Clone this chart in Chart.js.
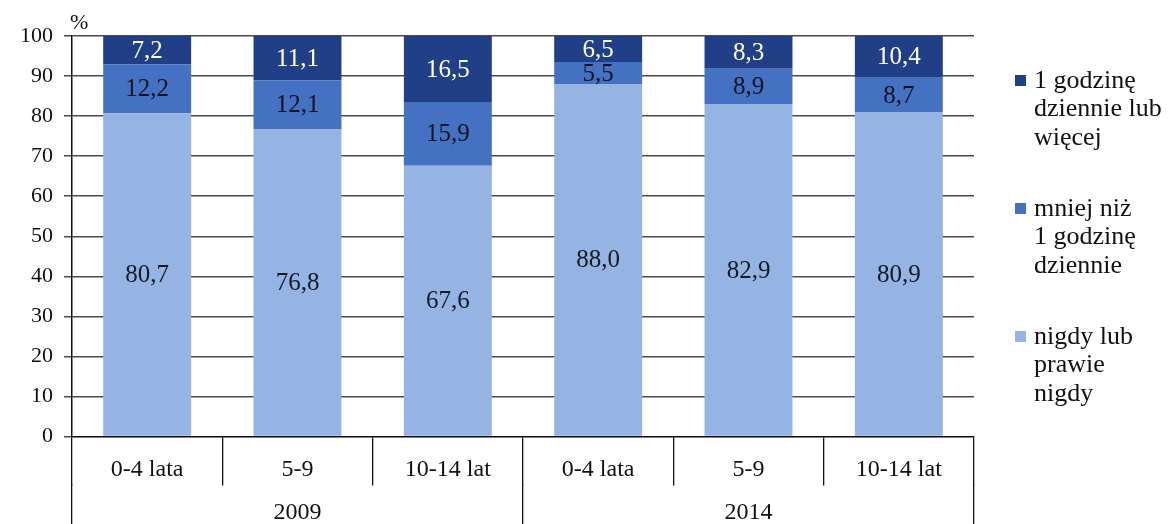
<!DOCTYPE html>
<html>
<head>
<meta charset="utf-8">
<script src="https://cdn.jsdelivr.net/npm/chart.js@4/dist/chart.umd.min.js"></script>
<style>
  html, body { margin: 0; padding: 0; background: #fff; }
  #wrap { width: 1173px; height: 524px; }
</style>
</head>
<body>
<div id="wrap"><canvas id="tvChart"></canvas></div>
<script>
var ageGroups = ["0-4 lata", "5-9", "10-14 lat", "0-4 lata", "5-9", "10-14 lat"];
var years = ["2009", "2014"];
var yTicks = [0, 10, 20, 30, 40, 50, 60, 70, 80, 90, 100];

var nigdy = [80.7, 76.8, 67.6, 88.0, 82.9, 80.9];
var mniejNiz = [12.2, 12.1, 15.9, 5.5, 8.9, 8.7];
var godzina = [7.2, 11.1, 16.5, 6.5, 8.3, 10.4];

var legendNigdy = ["nigdy lub", "prawie", "nigdy"];
var legendMniej = ["mniej niż", "1 godzinę", "dziennie"];
var legendGodzina = ["1 godzinę", "dziennie lub", "więcej"];

var serif = "'Liberation Serif', 'Times New Roman', serif";

// value labels in the middle of each segment
var segmentLabels = {
  id: "segmentLabels",
  afterDatasetsDraw: function (chart) {
    var ctx = chart.ctx;
    ctx.save();
    ctx.font = "25px " + serif;
    ctx.textAlign = "center";
    ctx.textBaseline = "middle";
    chart.data.datasets.forEach(function (ds, i) {
      var meta = chart.getDatasetMeta(i);
      meta.data.forEach(function (bar, j) {
        var p = bar.getProps(["x", "y", "base"], true);
        ctx.fillStyle = ds.labelColor;
        ctx.fillText(ds.data[j].toFixed(1).replace(".", ","), p.x, (p.y + p.base) / 2 + 1);
      });
    });
    ctx.restore();
  }
};

// "%" unit and the legend with wrapped entries on the right
var extras = {
  id: "extras",
  afterDraw: function (chart) {
    var ctx = chart.ctx;
    var area = chart.chartArea;
    ctx.save();
    ctx.fillStyle = "#111";
    ctx.font = "22px " + serif;
    ctx.textAlign = "left";
    ctx.textBaseline = "middle";
    ctx.fillText("%", area.left - 2, area.top - 13);

    ctx.font = "26px " + serif;
    var sets = chart.data.datasets.slice().reverse();
    sets.forEach(function (ds, k) {
      var y0 = area.top + 45 + k * 128;
      ctx.fillStyle = ds.backgroundColor;
      ctx.fillRect(area.right + 41, y0 - 6, 11, 11);
      ctx.fillStyle = "#111";
      ds.legendLines.forEach(function (line, n) {
        ctx.fillText(line, area.right + 60, y0 + n * 28.5);
      });
    });
    ctx.restore();
  }
};

var ctx1 = document.getElementById("tvChart").getContext("2d");
var tvChart = new Chart(ctx1, {
  type: "bar",
  data: {
    labels: ageGroups,
    datasets: [
      {
        label: legendNigdy.join(" "),
        legendLines: legendNigdy,
        data: nigdy,
        backgroundColor: "#95b4e3",
        labelColor: "#141a26",
        borderWidth: 0,
      },
      {
        label: legendMniej.join(" "),
        legendLines: legendMniej,
        data: mniejNiz,
        backgroundColor: "#4571c2",
        labelColor: "#0d1322",
        borderWidth: 0,
      },
      {
        label: legendGodzina.join(" "),
        legendLines: legendGodzina,
        data: godzina,
        backgroundColor: "#203f86",
        labelColor: "#ffffff",
        borderWidth: 0,
      },
    ],
  },
  options: {
    responsive: true,
    maintainAspectRatio: false,
    animation: false,
    events: [],
    layout: { padding: { top: 36, right: 199, bottom: 0, left: 9 } },
    datasets: { bar: { barPercentage: 1, categoryPercentage: 0.585 } },
    plugins: {
      legend: { display: false },
      tooltip: { enabled: false },
    },
    scales: {
      x: {
        stacked: true,
        offset: true,
        afterFit: function (scale) { scale.height = 47; },
        grid: {
          offset: true,
          drawOnChartArea: false,
          tickLength: 49,
          color: "#111",
          lineWidth: 1.3,
        },
        border: { color: "#111", width: 1.3 },
        ticks: { color: "#111", padding: -30, autoSkip: false, maxRotation: 0, font: { family: serif, size: 24 } },
      },
      x2: {
        type: "category",
        labels: years,
        position: "bottom",
        offset: true,
        afterFit: function (scale) { scale.height = 40.5; },
        grid: {
          offset: true,
          drawOnChartArea: false,
          tickLength: 45,
          color: "#111",
          lineWidth: 1.3,
        },
        border: { display: false },
        ticks: { color: "#111", padding: -30, autoSkip: false, maxRotation: 0, font: { family: serif, size: 24 } },
      },
      y: {
        stacked: true,
        min: 0,
        max: 100,
        afterBuildTicks: function (scale) {
          scale.ticks = yTicks.map(function (v) { return { value: v }; });
        },
        grid: { color: "#4a4a4a", lineWidth: 1.5, tickLength: 8 },
        border: { color: "#111", width: 1.5 },
        ticks: { color: "#111", padding: 11, font: { family: serif, size: 22 } },
      },
    },
  },
  plugins: [segmentLabels, extras],
});
</script>
</body>
</html>
